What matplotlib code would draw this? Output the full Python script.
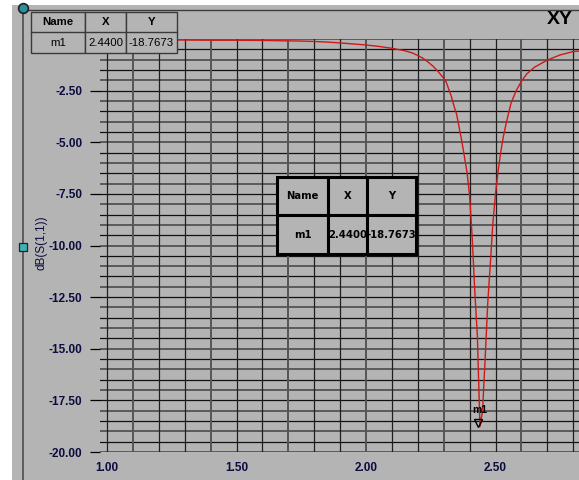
import numpy as np
import matplotlib
matplotlib.use("Agg")
import matplotlib.pyplot as plt
from matplotlib import font_manager
from matplotlib.lines import Line2D
from matplotlib.patches import Rectangle

plt.rcParams['font.family'] = ['Liberation Sans', 'DejaVu Sans']

# S11 trace (GHz, dB)
freq_ghz = [1.00, 1.10, 1.20, 1.30, 1.40, 1.50, 1.60, 1.70, 1.75, 1.80,
            1.85, 1.90, 1.95, 2.00, 2.05, 2.10, 2.15, 2.18, 2.20, 2.22,
            2.24, 2.26, 2.28, 2.30, 2.31, 2.32, 2.33, 2.34, 2.35, 2.36,
            2.37, 2.38, 2.39, 2.40, 2.41, 2.42, 2.43, 2.44, 2.45, 2.46,
            2.47, 2.48, 2.49, 2.50, 2.51, 2.52, 2.53, 2.54, 2.56, 2.58,
            2.60, 2.62, 2.65, 2.70, 2.75, 2.80, 2.85]
s11_db = [-0.04, -0.04, -0.05, -0.05, -0.06, -0.06, -0.07, -0.09, -0.10, -0.12,
          -0.15, -0.19, -0.24, -0.29, -0.36, -0.45, -0.57, -0.68, -0.80, -0.93,
          -1.12, -1.33, -1.60, -1.90, -2.10, -2.45, -2.80, -3.25, -3.65, -4.30,
          -4.95, -5.70, -6.45, -7.60, -9.60, -12.20, -14.40, -18.77, -18.00, -15.50,
          -12.80, -10.90, -8.90, -7.50, -6.40, -5.50, -4.75, -4.15, -3.10, -2.50,
          -2.05, -1.70, -1.37, -1.02, -0.77, -0.61, -0.55]

marker_name = "m1"
marker_x = 2.44
marker_y = -18.7673
table_header = ["Name", "X", "Y"]
table_row = [marker_name, "%.4f" % marker_x, "%.4f" % marker_y]

ytick_vals = [0.0, -2.5, -5.0, -7.5, -10.0, -12.5, -15.0, -17.5, -20.0]
xtick_vals = [1.0, 1.5, 2.0, 2.5]
y_label = "dB(S(1,1))"
title_text = "XY"

W, H = 579, 480
BG = '#b4b4b4'
LABEL_C = '#0c0c40'

# narrow face for the big marker table, if one is around
condensed = any(f.name == 'DejaVu Sans' and f.stretch == 'condensed'
                for f in font_manager.fontManager.ttflist)

fig = plt.figure(figsize=(W / 100, H / 100), dpi=100)
fig.patch.set_facecolor(BG)

def px_box(x0, y0, x1, y1):
    # pixel box (top-left origin) -> figure fraction rect
    return [x0 / W, 1 - y1 / H, (x1 - x0) / W, (y1 - y0) / H]

# window chrome, drawn in pixel space
chrome = fig.add_axes([0, 0, 1, 1], zorder=-1)
chrome.set_xlim(0, W)
chrome.set_ylim(H, 0)
chrome.axis('off')
chrome.add_patch(Rectangle((0, 0), W, 5, color='white', lw=0))
chrome.add_patch(Rectangle((0, 0), 12, H, color='white', lw=0))
chrome.add_line(Line2D([23, W], [10, 10], color='#3c3c3c', lw=1.0))
chrome.add_line(Line2D([23, 23], [8, H], color='#555555', lw=1.3))

# main plot area
ax = fig.add_axes(px_box(100, 39, W, 452))
ax.set_facecolor(BG)
for s in ax.spines.values():
    s.set_visible(False)

for i, yv in enumerate(np.arange(0, -20.01, -0.5)):
    if i % 2 == 0:
        ax.axhline(yv, color='#5a5a5a', lw=1.4, zorder=1)
    else:
        ax.axhline(yv, color='#111111', lw=0.9, zorder=1)
for i, xv in enumerate(np.arange(1.0, 2.85, 0.1)):
    ax.axvline(xv, color='#1e1e1e' if i % 3 != 1 else '#555555',
               lw=0.9 if i % 3 != 1 else 1.4, zorder=1)

ax.plot(freq_ghz, s11_db, color='#d01818', lw=1.0, zorder=3)

ax.set_yticks(ytick_vals)
ax.set_yticklabels(["%.2f" % v for v in ytick_vals])
ax.set_xticks(xtick_vals)
ax.set_xticklabels(["%.2f" % v for v in xtick_vals])
ax.set_xlim(1 - 7 / 259, 1 + (W - 107) / 259)
ax.set_ylim(-20, 0)
ax.tick_params(axis='y', direction='out', length=7.2, width=0.9, color='black',
               pad=5.5, labelsize=8.5, labelcolor=LABEL_C)
ax.tick_params(axis='x', length=0, pad=7, labelsize=8.5, labelcolor=LABEL_C)
for lab in ax.get_xticklabels() + ax.get_yticklabels():
    lab.set_fontweight('bold')

# marker m1
ax.plot(marker_x, marker_y, marker='v', ms=6, mfc='none', mec='black', mew=1.0,
        zorder=4, transform=ax.transData + matplotlib.transforms.ScaledTranslation(
            -2 / 100, 4 / 100, fig.dpi_scale_trans))
ax.annotate(marker_name, (marker_x, marker_y), xytext=(0, 17), textcoords='offset pixels',
            ha='center', va='center', fontsize=7.5, fontweight='bold', color='black', zorder=5)

fig.text(42 / W, 1 - 243 / H, y_label, rotation=90, ha='center', va='center',
         fontsize=8.5, color=LABEL_C)
fig.text(560 / W, 1 - 20 / H, title_text, ha='center', va='center',
         fontsize=14, fontweight='bold', color='black')

# slider handles on the left rail
chrome.plot([23], [8], marker='o', ms=7, mfc='#2e8e9a', mec='#202020', mew=1.2, zorder=5)
chrome.plot([23], [247], marker='s', ms=5.5, mfc='#3cb4b4', mec='#202020', mew=0.9, zorder=5)


def draw_table(box, col_fracs, fsize, edge, lw, big):
    tax = fig.add_axes(px_box(*box), zorder=5)
    tax.axis('off')
    tb = tax.table(cellText=[table_row], colLabels=table_header, colWidths=col_fracs,
                   cellLoc='center', bbox=[0, 0, 1, 1])
    tb.auto_set_font_size(False)
    for (r, c), cell in tb.get_celld().items():
        cell.set_facecolor(BG)
        cell.set_edgecolor(edge)
        cell.set_linewidth(lw)
        t = cell.get_text()
        t.set_fontsize(fsize)
        t.set_color('black')
        if big and condensed:
            t.set_family('DejaVu Sans')
            t.set_stretch('condensed')
        if r == 0 or big:
            t.set_fontweight('bold')
    return tb


draw_table((31, 12, 177, 53), [54 / 146, 41 / 146, 51 / 146], 8.2, '#3a3a3a', 1.0, False)
draw_table((277, 177, 416, 254), [51 / 139, 39 / 139, 49 / 139],
           8.0 if condensed else 8.4, 'black', 2.2, True)

fig.savefig("out.png", dpi=100, facecolor=fig.get_facecolor())
